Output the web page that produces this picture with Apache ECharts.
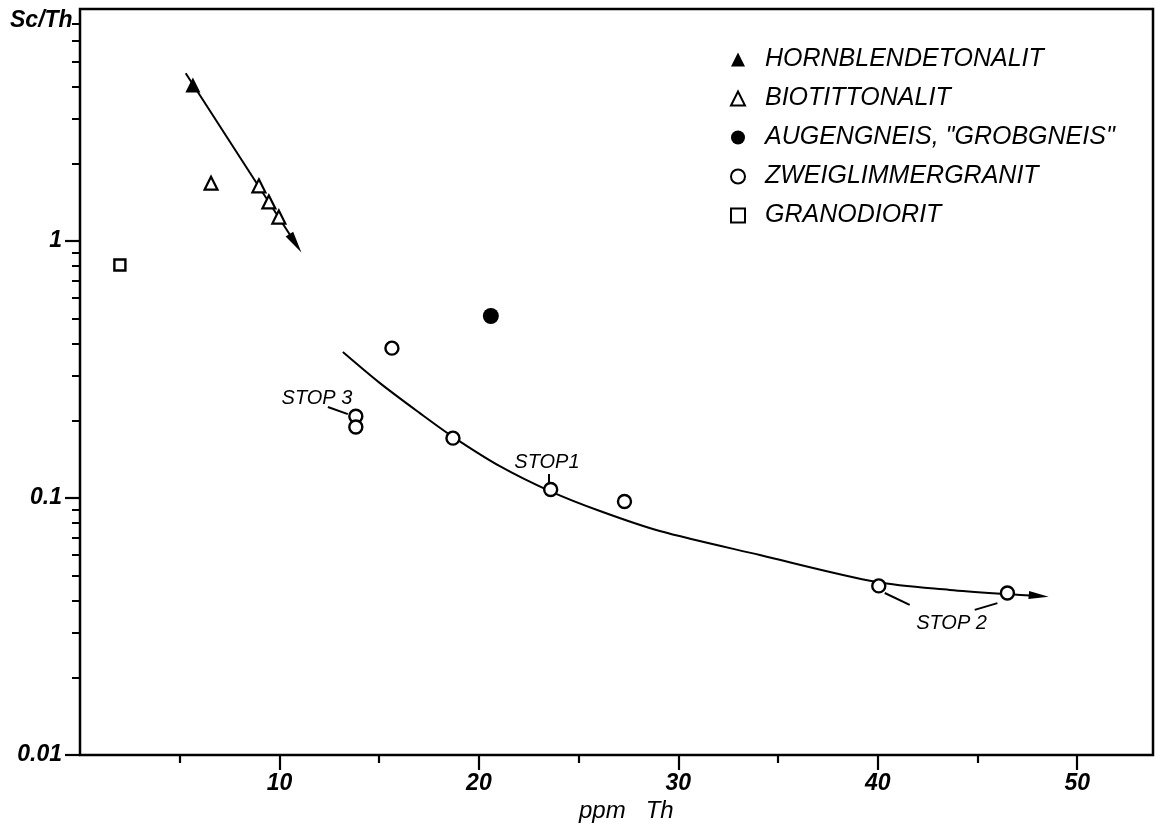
<!DOCTYPE html>
<html><head><meta charset="utf-8">
<script src="https://cdn.jsdelivr.net/npm/echarts@6/dist/echarts.min.js"></script>
<style>html,body{margin:0;padding:0;background:#fff}#c{width:1160px;height:830px}</style>
</head><body><div id="c"></div>
<script>
// ---- data (ppm Th, Sc/Th) ----
const hornblendetonalit = [[5.66, 4.05]];
const biotittonalit = [[6.57, 1.68], [8.97, 1.64], [9.47, 1.42], [9.97, 1.24]];
const augengneis = [[20.6, 0.511]];
const zweiglimmergranit = [[15.64, 0.383], [13.83, 0.208], [13.83, 0.189], [18.7, 0.171], [23.6, 0.108], [27.3, 0.097], [40.05, 0.0455], [46.5, 0.0427]];
const granodiorit = [[2.0, 0.807]];
const trendTonalit = [[5.3, 4.5], [10.8, 0.98]];
const trendGranit = [[13.18, 0.370], [15.04, 0.280], [17.04, 0.214], [18.7, 0.173], [21.05, 0.133], [23.56, 0.1064], [26.07, 0.0890], [29.07, 0.0744], [34.09, 0.0600], [39.95, 0.0471], [43.61, 0.0439], [46.47, 0.0423], [48.07, 0.0416]];
const stopLabels = [['STOP 3', 11.88, 0.245], ['STOP1', 23.41, 0.137], ['STOP 2', 43.7, 0.0326]];
const stopLeaders = [[[12.43, 0.226], [13.43, 0.212]], [[23.5, 0.124], [23.5, 0.114]], [[40.35, 0.0427], [41.6, 0.0384]], [[44.86, 0.0367], [46.0, 0.039]]];
const seriesNames = ['HORNBLENDETONALIT', 'BIOTITTONALIT', 'AUGENGNEIS, "GROBGNEIS"', 'ZWEIGLIMMERGRANIT', 'GRANODIORIT'];
const xMajorTicks = [10, 20, 30, 40, 50];
const xMinorTicks = [5, 15, 25, 35, 45];
const yMajorTicks = [0.01, 0.1, 1];
const yMinorTicks = [0.02, 0.03, 0.04, 0.05, 0.06, 0.07, 0.08, 0.09, 0.2, 0.3, 0.4, 0.5, 0.6, 0.7, 0.8, 0.9, 2, 3, 4, 5, 6, 7];
const arrowTonalitRotate = -147;
const arrowGranitRotate = -95.5;

const FONT = 'Liberation Sans';
const black = '#000';
const txt = (size, weight) => ({ fontFamily: FONT, fontStyle: 'italic', fontWeight: weight || 'normal', fontSize: size, color: black });

function withArrow(points, rot, size) {
  return points.map((p, i) => i === points.length - 1
    ? { value: p, symbol: 'triangle', symbolSize: size, symbolRotate: rot, itemStyle: { color: black, opacity: 1 } }
    : { value: p, symbol: 'none' });
}

const chart = echarts.init(document.getElementById('c'), null, { renderer: 'canvas' });
chart.setOption({
  animation: false,
  backgroundColor: '#fff',
  title: [
    { text: 'Sc/Th', left: 5, top: 4, textStyle: txt(23, 'bold') },
    { text: 'ppm   Th', left: 574, top: 794, textStyle: txt(24) }
  ],
  grid: { left: 80, right: 7, top: 9, bottom: 75, show: true, borderColor: black, borderWidth: 2.5, backgroundColor: 'transparent' },
  legend: {
    orient: 'vertical', left: 725, top: 42, itemWidth: 14, itemHeight: 14, itemGap: 14,
    data: seriesNames,
    textStyle: Object.assign(txt(25), { padding: [0, 0, 0, 15] })
  },
  xAxis: [
    { type: 'value', min: 0, max: 53.8, position: 'bottom',
      axisLine: { show: false }, splitLine: { show: false },
      axisTick: { show: true, length: 15, lineStyle: { color: black, width: 2.2 }, customValues: xMajorTicks },
      axisLabel: Object.assign(txt(23, 'bold'), { margin: 17, customValues: xMajorTicks }) },
    { type: 'value', min: 0, max: 53.8, position: 'bottom',
      axisLine: { show: false }, splitLine: { show: false },
      axisTick: { show: true, length: 8, lineStyle: { color: black, width: 2.2 }, customValues: xMinorTicks },
      axisLabel: { show: false } }
  ],
  yAxis: [
    { type: 'log', logBase: 10, min: 0.01, max: 8, position: 'left',
      axisLine: { show: false }, splitLine: { show: false },
      axisTick: { show: true, length: 15, lineStyle: { color: black, width: 2.2 }, customValues: yMajorTicks },
      axisLabel: Object.assign(txt(23, 'bold'), { margin: 18, customValues: yMajorTicks, formatter: v => String(+(+v).toPrecision(2)) }) },
    { type: 'log', logBase: 10, min: 0.01, max: 8, position: 'left',
      axisLine: { show: false }, splitLine: { show: false },
      axisTick: { show: true, length: 8, lineStyle: { color: black, width: 2 }, customValues: yMinorTicks },
      axisLabel: { show: false } }
  ],
  series: [
    { name: 'trendTonalit', type: 'line', data: withArrow(trendTonalit, arrowTonalitRotate, [9, 22]), symbol: 'none', showSymbol: true,
      lineStyle: { color: black, width: 2 }, z: 1, silent: true },
    { name: 'trendGranit', type: 'line', smooth: 0.3, data: withArrow(trendGranit, arrowGranitRotate, [8, 20]), symbol: 'none', showSymbol: true,
      lineStyle: { color: black, width: 2 }, z: 1, silent: true },
    { name: seriesNames[0], type: 'scatter', data: hornblendetonalit, symbol: 'triangle', symbolSize: 15,
      itemStyle: { color: black, opacity: 1 }, z: 3 },
    { name: seriesNames[1], type: 'scatter', data: biotittonalit, symbol: 'triangle', symbolSize: 13,
      itemStyle: { color: '#fff', borderColor: black, borderWidth: 2.2, opacity: 1 }, z: 3 },
    { name: seriesNames[2], type: 'scatter', data: augengneis, symbol: 'circle', symbolSize: 16,
      itemStyle: { color: black, opacity: 1 }, z: 3 },
    { name: seriesNames[3], type: 'scatter', data: zweiglimmergranit, symbol: 'circle', symbolSize: 13,
      itemStyle: { color: '#fff', borderColor: black, borderWidth: 2.4, opacity: 1 }, z: 3 },
    { name: seriesNames[4], type: 'scatter', data: granodiorit, symbol: 'rect', symbolSize: 11,
      itemStyle: { color: '#fff', borderColor: black, borderWidth: 2.4, opacity: 1 }, z: 3 },
    { name: 'stops', type: 'scatter', symbol: 'circle', symbolSize: 1, silent: true, z: 4,
      itemStyle: { color: 'rgba(255,255,255,0)', opacity: 1 },
      data: stopLabels.map(s => ({ name: s[0], value: [s[1], s[2]] })),
      label: Object.assign(txt(20), { show: true, position: 'inside', formatter: '{b}', opacity: 1 }),
      labelLayout: { hideOverlap: false },
      markLine: { silent: true, symbol: 'none', label: { show: false },
        lineStyle: { color: black, width: 2, type: 'solid' },
        data: stopLeaders.map(seg => [{ coord: seg[0] }, { coord: seg[1] }]) } }
  ]
});
</script></body></html>
